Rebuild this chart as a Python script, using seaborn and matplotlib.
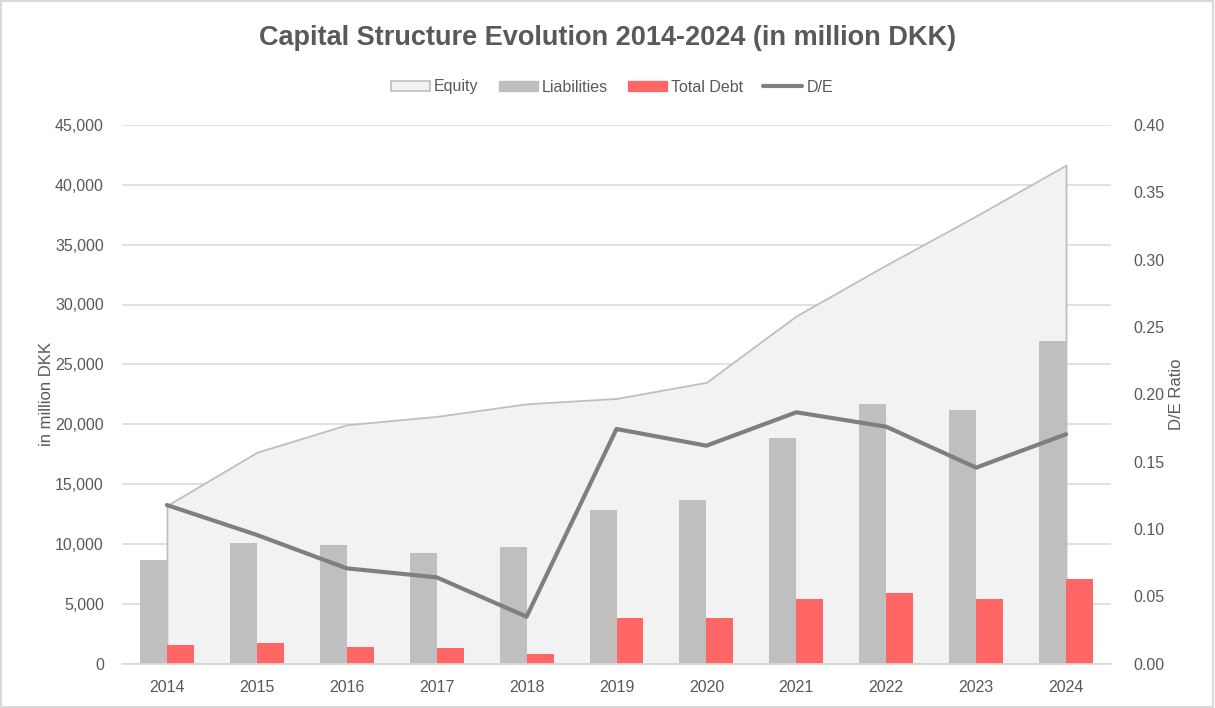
import numpy as np
import pandas as pd
import matplotlib
matplotlib.use("Agg")
import matplotlib.pyplot as plt
from matplotlib.patches import Patch, Rectangle
from matplotlib.lines import Line2D
from matplotlib.ticker import FuncFormatter, MultipleLocator, FixedLocator
import seaborn as sns

# ---- data (million DKK) ----
years = ["2014", "2015", "2016", "2017", "2018", "2019", "2020", "2021", "2022", "2023", "2024"]
equity = [13200, 17650, 19950, 20650, 21700, 22150, 23500, 29050, 33300, 37400, 41650]
liabilities = [8650, 10100, 9900, 9200, 9750, 12800, 13700, 18850, 21700, 21200, 26950]
total_debt = [1540, 1680, 1400, 1290, 790, 3820, 3820, 5430, 5850, 5430, 7020]
de_ratio = [0.1177, 0.0955, 0.0707, 0.0640, 0.0348, 0.1742, 0.1618, 0.1866, 0.1759, 0.1455, 0.1703]

series_names = ["Liabilities", "Total Debt"]
title = "Capital Structure Evolution 2014-2024 (in million DKK)"

C_EQ_FILL = "#F2F2F2"
C_EQ_EDGE = "#BFBFBF"
C_LIAB = "#BFBFBF"
C_DEBT = "#FF6666"
C_DE = "#7F7F7F"
C_GRID = "#D9D9D9"
C_TEXT = "#595959"

sns.set_theme(style="white")
plt.rcParams["font.family"] = ["Liberation Sans", "DejaVu Sans"]

bars = pd.DataFrame({
    "year": years * 2,
    "series": [series_names[0]] * len(years) + [series_names[1]] * len(years),
    "value": liabilities + total_debt,
})

fig = plt.figure(figsize=(12.15, 7.08), dpi=100)
ax = fig.add_axes([122 / 1215, 1 - 663.5 / 708, (1111 - 122) / 1215, (663.5 - 125) / 708])

pos = np.arange(len(years))

# equity as a shaded area behind the bars
ax.fill_between(pos, equity, 0, facecolor=C_EQ_FILL, edgecolor=C_EQ_EDGE,
                linewidth=1.3, zorder=1)

sns.barplot(data=bars, x="year", y="value", hue="series", order=years,
            hue_order=series_names, palette=[C_LIAB, C_DEBT], width=0.6,
            saturation=1, gap=0, legend=False, ax=ax, zorder=2,
            edgecolor="none", linewidth=0)

ax.set_xlim(-0.5, len(years) - 0.5)
ax.set_ylim(0, 45000)
ax.yaxis.set_major_locator(MultipleLocator(5000))
ax.yaxis.set_major_formatter(FuncFormatter(lambda v, p: f"{v:,.0f}"))
ax.yaxis.grid(True, color=C_GRID, linewidth=1.1)
ax.set_axisbelow(True)
ax.set_xlabel("")
ax.set_ylabel("in million DKK", fontsize=12, color=C_TEXT, labelpad=1)

ax.set_xticks(pos)
ax.set_xticklabels(years)
ax.xaxis.set_minor_locator(FixedLocator(np.arange(-0.5, len(years), 1.0)))
ax.tick_params(axis="x", which="major", length=0, pad=12, labelsize=11.5, labelcolor=C_TEXT)
ax.tick_params(axis="x", which="minor", length=5, width=1, color=C_GRID, direction="out")
ax.tick_params(axis="y", length=0, pad=13, labelsize=11.5, labelcolor=C_TEXT)

for s in ["left", "right", "top"]:
    ax.spines[s].set_visible(False)
ax.spines["bottom"].set_color(C_GRID)
ax.spines["bottom"].set_linewidth(1.2)

# D/E ratio on secondary axis
ax2 = ax.twinx()
sns.lineplot(x=pos, y=de_ratio, color=C_DE, linewidth=3, ax=ax2, zorder=5)
ax2.set_ylim(0, 0.40)
ax2.set_xlim(-0.5, len(years) - 0.5)
ax2.yaxis.set_major_locator(MultipleLocator(0.05))
ax2.yaxis.set_major_formatter(FuncFormatter(lambda v, p: f"{v:.2f}"))
ax2.tick_params(axis="y", length=0, pad=16, labelsize=11.5, labelcolor=C_TEXT)
ax2.set_ylabel("D/E Ratio", fontsize=12, color=C_TEXT, labelpad=3)
for s in ax2.spines.values():
    s.set_visible(False)

fig.suptitle(title, x=608 / 1215, y=1 - 38 / 708, va="center", fontsize=19.5,
             fontweight="bold", color=C_TEXT,
             family=["Liberation Sans Narrow", "DejaVu Sans Condensed", "Liberation Sans"])

handles = [
    Patch(facecolor=C_EQ_FILL, edgecolor=C_EQ_EDGE, linewidth=1.2, label="Equity"),
    Patch(facecolor=C_LIAB, edgecolor=C_LIAB, label="Liabilities"),
    Patch(facecolor=C_DEBT, edgecolor=C_DEBT, label="Total Debt"),
    Line2D([], [], color=C_DE, linewidth=3, label="D/E"),
]
leg = fig.legend(handles=handles, loc="center", bbox_to_anchor=(612 / 1215, 1 - 87 / 708),
                 ncol=4, frameon=False, fontsize=11.5, handlelength=2.45,
                 handleheight=0.6, handletextpad=0.25, columnspacing=1.25)
for t in leg.get_texts():
    t.set_color(C_TEXT)

# chart border
fig.patches.append(Rectangle((0.001, 0.001), 0.997, 0.997, transform=fig.transFigure,
                             fill=False, edgecolor=C_GRID, linewidth=1.5))

fig.savefig("out.png", dpi=100)
